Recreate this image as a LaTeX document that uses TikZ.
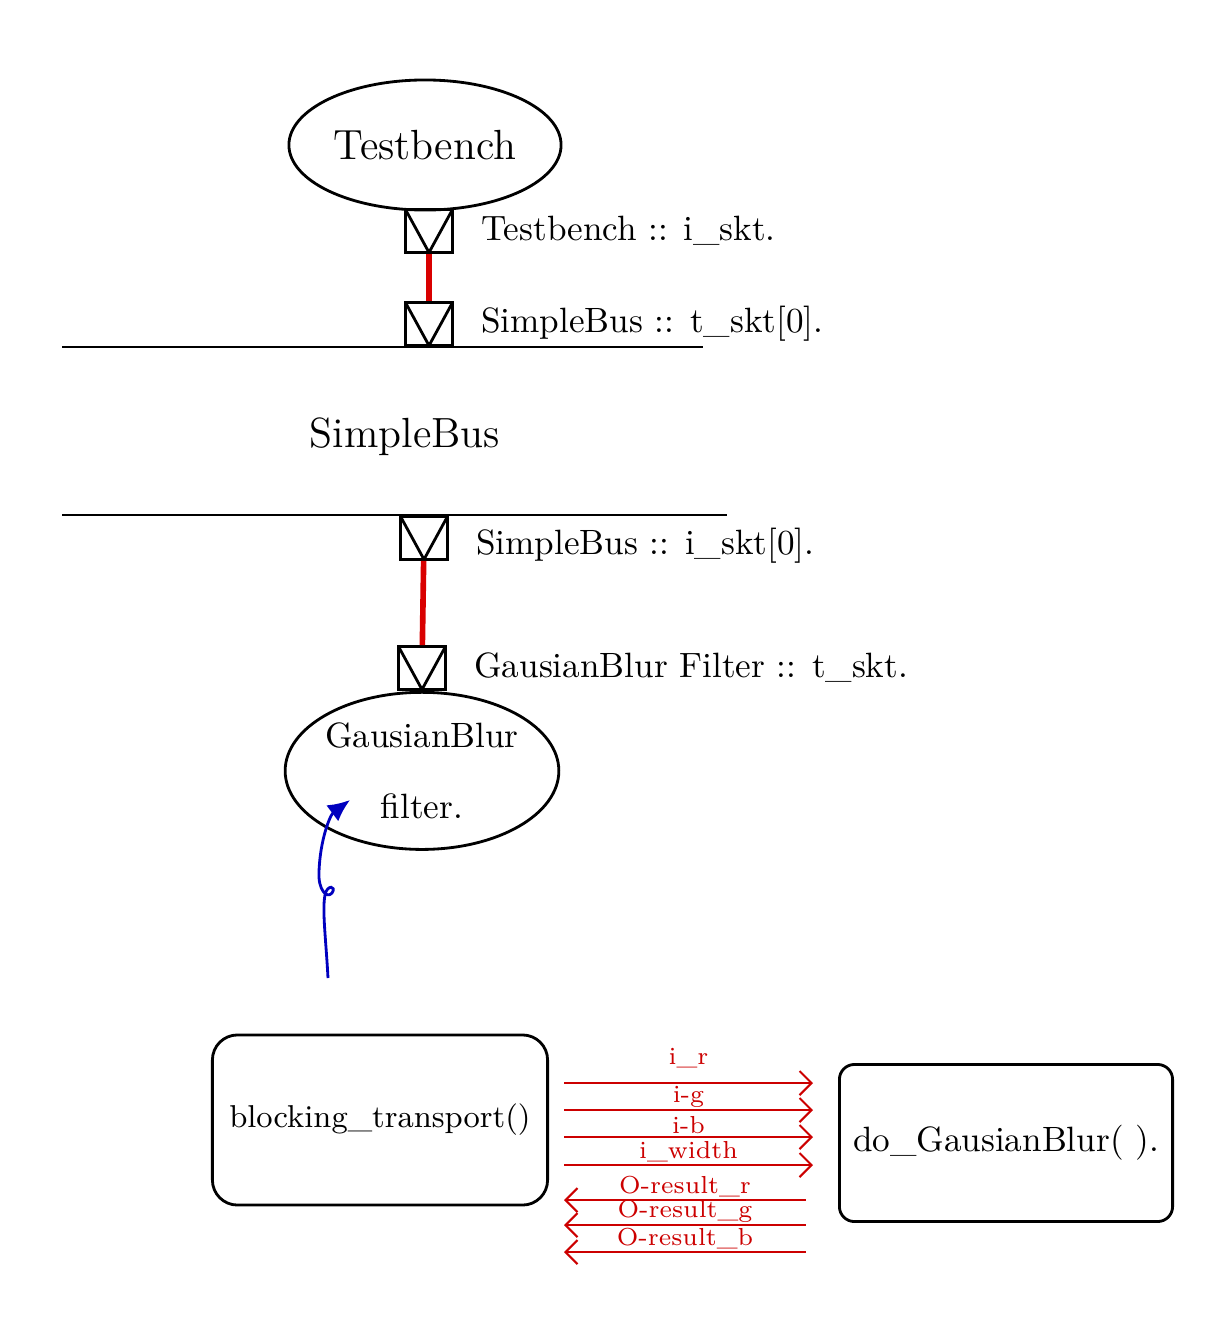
\documentclass[tikz,border=0pt]{standalone}
\usepackage{tikz}
\usetikzlibrary{shapes,arrows,arrows.meta,positioning,calc}

\begin{document}
\begin{tikzpicture}[x=0.01cm, y=-0.01cm, node distance=1.5cm, auto,
        portbox/.style={draw, thick, minimum width=0.47cm, minimum height=0.43cm, inner sep=0pt,
            path picture={\draw [thick] (path picture bounding box.north west) -- (path picture bounding box.south) -- (path picture bounding box.north east);}},
        portlabel/.style={right=0.15cm of #1},
        bindline/.style={line width=1.6pt, red!85!black},
        sigline/.style={semithick, red!80!black},
        siglabel/.style={midway, above=-0.5pt, inner sep=1pt, font=\scriptsize, text=red!80!black}]
        \useasboundingbox (0,0) rectangle (1220,1342);

        % Testbench
        \node [draw, thick, ellipse, inner sep=0pt, minimum width=2.72cm, minimum height=1.3cm, font=\large] (tb) at (425,145) {Testbench};
        \node [portbox] (tbport) at (429,231) {};
        \node [portlabel=tbport] (tblab) {Testbench :: i\_skt.};

        % Bus
        \coordinate (bustopl) at (62,347);
        \coordinate (bustopr) at (703,347);
        \coordinate (busbotl) at (62,515);
        \coordinate (busbotr) at (727,515);
        \draw [thick] (bustopl) -- (bustopr);
        \draw [thick] (busbotl) -- (busbotr);
        \node [font=\large] (bus) at (405,437) {SimpleBus};

        \node [portbox, anchor=south] (busport1) at (429,347) {};
        \node [portlabel=busport1] (buslab1) {SimpleBus :: t\_skt[0].};
        \node [portbox, anchor=north] (busport2) at (424,515) {};
        \node [portlabel=busport2, yshift=-0.08cm] (buslab2) {SimpleBus :: i\_skt[0].};

        % Filter
        \node [portbox] (fltport) at (422,668) {};
        \node [portlabel=fltport] (fltlab) {GausianBlur Filter :: t\_skt.};
        \node [draw, thick, ellipse, inner sep=0pt, below=0cm of fltport.south, minimum width=2.55cm, minimum height=1.57cm, align=center] (flt) {GausianBlur\\[8pt]filter.};

        % Bindings
        \draw [bindline] (tbport) -- (busport1);
        \draw [bindline] (busport2) -- (fltport);

        % Call into the filter
        \coordinate (blsrc) at (328,978);
        \coordinate (blin) at (350,800);
        \draw [-{Latex[length=0.22cm, width=0.2cm]}, thick, blue!75!black] (blsrc)
            .. controls (326,940) and (322,910) .. (325,895)
            .. controls (327,884) and (337,886) .. (332,893)
            .. controls (327,899) and (318,890) .. (319,872)
            .. controls (320,840) and (330,815) .. (blin);

        % Functions
        \node [draw, thick, rounded corners=0.25cm, minimum width=3.35cm, minimum height=1.7cm, font=\small] (blk) at (380,1120) {blocking\_transport()};
        \node [draw, thick, rounded corners=0.15cm, minimum width=3.33cm, minimum height=1.57cm] (dgb) at (1006,1143) {do\_GausianBlur( ).};

        % Signals
        \foreach \yy/\lab/\up in {1083/i\_r/3pt, 1110/i-g/-0.5pt, 1137/i-b/-0.5pt, 1165/i\_width/-0.5pt} {
            \coordinate (lvl) at (0,\yy);
            \draw [-{Straight Barb[length=0.12cm, width=0.24cm]}, sigline] ($(blk.east |- lvl)+(15,0)$) -- ($(dgb.west |- lvl)+(-25,0)$)
                node [siglabel, above=\up] {\lab};
        }
        \foreach \yy/\lab in {1200/O-result\_r, 1225/O-result\_g, 1252/O-result\_b} {
            \coordinate (lvl) at (0,\yy);
            \draw [{Straight Barb[length=0.12cm, width=0.24cm]}-, sigline] ($(blk.east |- lvl)+(15,0)$) -- ($(dgb.west |- lvl)+(-32,0)$)
                node [siglabel] {\lab};
        }
    \end{tikzpicture}
\end{document}
